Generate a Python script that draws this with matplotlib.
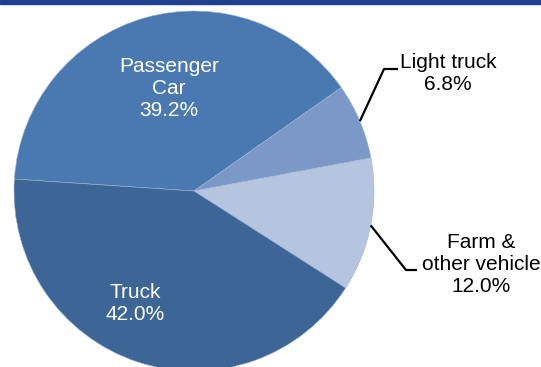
import numpy as np
import matplotlib
matplotlib.use("Agg")
import matplotlib.pyplot as plt
from matplotlib.patches import Rectangle

# Vehicle category shares (%)
categories = ["Passenger\nCar", "Light truck", "Farm &\nother vehicle", "Truck"]
shares = [39.2, 6.8, 12.0, 42.0]
colors = ["#4A78B0", "#7B98C6", "#B6C5DF", "#3D6595"]

W, H = 541, 367
fig = plt.figure(figsize=(W / 100, H / 100), dpi=100)
ax = fig.add_axes([0, 0, 1, 1])

cx, cy, r = 194, H - 191, 180
start = 176.2
wedges, _ = ax.pie(shares, colors=colors, startangle=start, counterclock=False,
                   center=(cx, cy), radius=r, frame=True,
                   wedgeprops=dict(linewidth=0.4, edgecolor="#9DB3D6"))
ax.set_xlim(0, W)
ax.set_ylim(0, H)
ax.set_aspect("equal")
ax.axis("off")

font = dict(family=["Liberation Sans", "DejaVu Sans"], fontsize=15, linespacing=1.2,
            ha="center", va="center")

def label(i):
    return f"{categories[i]}\n{shares[i]:.1f}%"

# Inside labels
ax.text(169, H - 89, label(0), color="white", **font)
ax.text(135, H - 303, label(3), color="white", **font)

# Outside labels with leader lines from the wedge mid-angle
def leader(i, elbow, end, text_xy):
    w = wedges[i]
    mid = np.deg2rad((w.theta1 + w.theta2) / 2)
    sx, sy = cx + r * np.cos(mid), cy + r * np.sin(mid)
    ax.plot([sx, elbow[0], end[0]], [sy, H - elbow[1], H - end[1]],
            color="black", lw=1.6, solid_capstyle="butt")
    ax.text(text_xy[0], H - text_xy[1], label(i), color="black", **font)

leader(1, (384, 69), (398, 69), (448, 73))
leader(2, (406, 270), (417, 270), (481, 264))

# Header band
fig.patches.append(Rectangle((0, 1 - 4 / H), 1, 4 / H, transform=fig.transFigure,
                             color="#1F3F8F", zorder=5))

fig.savefig("out.png", dpi=100)
